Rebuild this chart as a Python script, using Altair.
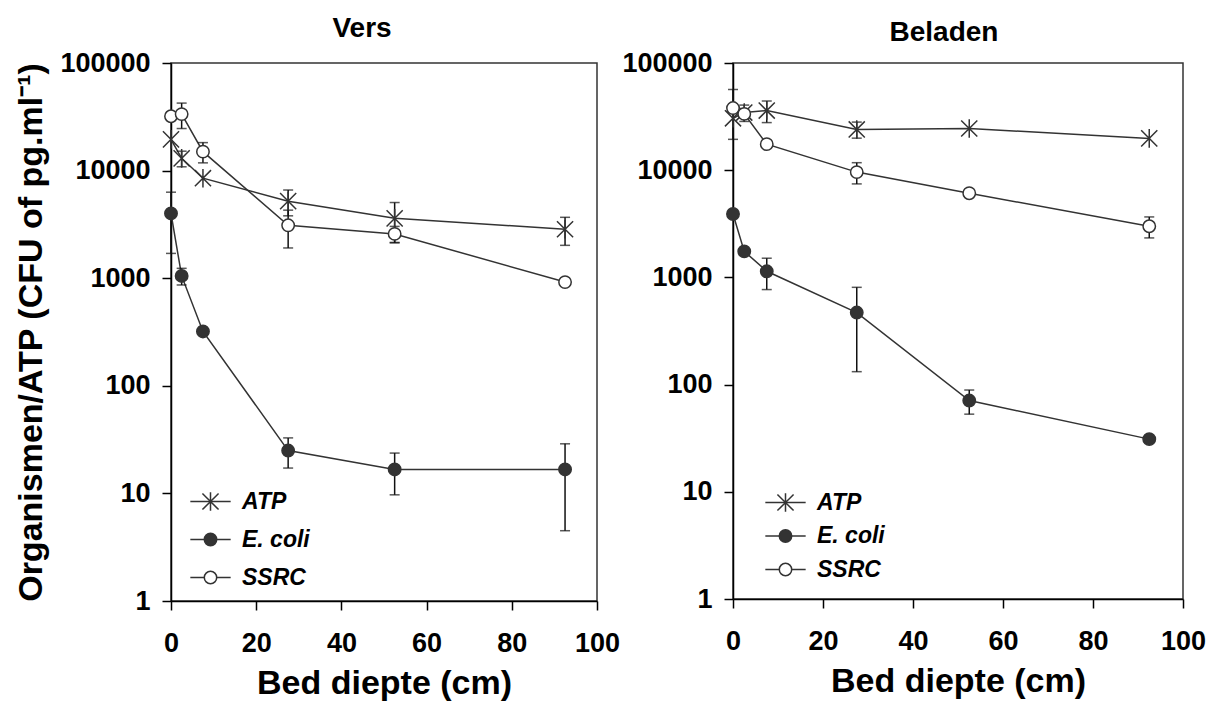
import altair as alt
import pandas as pd

# Bed depth of the sampling points (cm)
depth = [0, 2.5, 7.5, 27.5, 52.5, 92.5]
series_names = ["ATP", "E. coli", "SSRC"]
line_keys = ["ATP line", "E. coli line", "SSRC line"]

# Fresh bed ("Vers"): means and standard deviations
vers_atp = [19500, 13000, 8500, 5200, 3600, 2850]
vers_atp_sd = [0, 2150, 0, 1400, 1450, 830]
vers_ecoli = [4000, 1050, 320, 25, 16.7, 16.7]
vers_ecoli_sd = [2300, 185, 0, 7.8, 7.0, 12.2]
vers_ssrc = [32000, 33500, 15000, 3100, 2580, 920]
vers_ssrc_sd = [0, 8900, 3200, 1190, 450, 0]

# Loaded bed ("Beladen"): means and standard deviations
bel_atp = [30500, 34500, 36000, 24000, 24500, 19800]
bel_atp_sd = [0, 6000, 8200, 4100, 0, 0]
bel_ecoli = [3900, 1750, 1140, 470, 71, 31]
bel_ecoli_sd = [0, 0, 370, 338, 18, 0]
bel_ssrc = [38000, 33500, 17500, 9600, 6100, 3000]
bel_ssrc_sd = [18600, 0, 0, 2150, 0, 665]

FONT = "Liberation Sans"
INK = "#333333"
ASTERISK = "M0,-1.5L0,1.5M-1.3,-1.3L1.3,1.3M-1.3,1.3L1.3,-1.3"
LEGEND_LINE = "M-3.25,0L3.25,0"
MARK_SIZE = 154


def make_frame(atp, atp_sd, ecoli, ecoli_sd, ssrc, ssrc_sd):
    rows = []
    groups = [("ATP", atp, atp_sd), ("E. coli", ecoli, ecoli_sd), ("SSRC", ssrc, ssrc_sd)]
    for (name, vals, sds), key in zip(groups, line_keys):
        for d, v, s in zip(depth, vals, sds):
            rows.append({"depth": d, "value": v, "sd": s, "lo": v - s, "hi": v + s,
                         "series": key, "label": name})
    return pd.DataFrame(rows)


def panel(title, df, width, height, legend_x, legend_y, row_pad, title_dx, title_offset, y_title):
    base = alt.Chart(df)
    x_axis = alt.Axis(values=[0, 20, 40, 60, 80, 100], title="Bed diepte (cm)",
                      labelPadding=20, titlePadding=10, labelFlush=False)
    y_axis = alt.Axis(values=[1, 10, 100, 1000, 10000, 100000], format="d",
                      title=y_title, labelPadding=12, titlePadding=11, labelFlush=False)
    y_scale = alt.Scale(type="log", domain=[1, 100000], nice=False)
    x = alt.X("depth:Q", scale=alt.Scale(domain=[0, 100], nice=False, zero=False), axis=x_axis)
    y = alt.Y("value:Q", scale=y_scale, axis=y_axis)

    # connecting lines; their legend supplies the line segment behind each symbol
    lines = base.mark_line(strokeWidth=1.5).encode(
        x=x, y=y,
        color=alt.Color("series:N",
                        scale=alt.Scale(domain=line_keys, range=[INK] * 3),
                        legend=alt.Legend(orient="none", legendX=legend_x, legendY=legend_y,
                                          title=None, symbolType=LEGEND_LINE,
                                          symbolSize=MARK_SIZE, symbolStrokeWidth=1.5,
                                          labelExpr="''", labelFontSize=23,
                                          labelOffset=20, rowPadding=row_pad, padding=0)),
    )

    bars = base.transform_filter("datum.sd > 0").mark_errorbar(
        ticks=True, size=10, thickness=1.5, color="#111111"
    ).encode(
        x=x,
        y=alt.Y("lo:Q", scale=y_scale, axis=y_axis),
        y2="hi:Q",
    )

    points = base.mark_point(size=MARK_SIZE, strokeWidth=1.5, opacity=1).encode(
        x=x, y=y,
        shape=alt.Shape("label:N", scale=alt.Scale(domain=series_names,
                                                   range=[ASTERISK, "circle", "circle"]),
                        legend=alt.Legend(orient="none", legendX=legend_x, legendY=legend_y,
                                          title=None, symbolSize=MARK_SIZE,
                                          symbolStrokeWidth=1.5, labelFont=FONT,
                                          labelFontSize=23, labelFontWeight="bold",
                                          labelFontStyle="italic", labelColor="black",
                                          labelOffset=20, rowPadding=row_pad, padding=0)),
        fill=alt.Fill("label:N", scale=alt.Scale(domain=series_names,
                                                 range=["transparent", INK, "#ffffff"])),
        stroke=alt.Stroke("label:N", scale=alt.Scale(domain=series_names, range=[INK] * 3)),
    )

    return alt.layer(lines, bars, points).properties(
        width=width, height=height,
        title=alt.TitleParams(title, font=FONT, fontSize=28, fontWeight="bold",
                              color="black", dx=title_dx, offset=title_offset),
    )


vers_df = make_frame(vers_atp, vers_atp_sd, vers_ecoli, vers_ecoli_sd, vers_ssrc, vers_ssrc_sd)
bel_df = make_frame(bel_atp, bel_atp_sd, bel_ecoli, bel_ecoli_sd, bel_ssrc, bel_ssrc_sd)

left = panel("Vers", vers_df, 426, 538, 28, 427, 14, -22, 6,
             "Organismen/ATP (CFU of pg.ml\u207b\u00b9)")
right = panel("Beladen", bel_df, 450, 536, 41, 428, 9.5, -14, 2, None)

chart = alt.hconcat(left, right, spacing=0).resolve_scale(
    color="independent", shape="independent", fill="independent", stroke="independent"
).properties(
    padding={"left": 14, "top": 14, "right": 0, "bottom": 0}
).configure_view(
    stroke=INK, strokeWidth=1.5
).configure_axis(
    domainColor="black", domainWidth=1.5, tickColor="black", tickWidth=1.5, tickSize=9,
    labelFont=FONT, labelFontSize=27, labelFontWeight="bold", labelColor="black",
    titleFont=FONT, titleFontSize=34, titleFontWeight="bold", titleColor="black",
    grid=False,
)

chart.save("out.html", embed_options={"renderer": "svg", "actions": False})
